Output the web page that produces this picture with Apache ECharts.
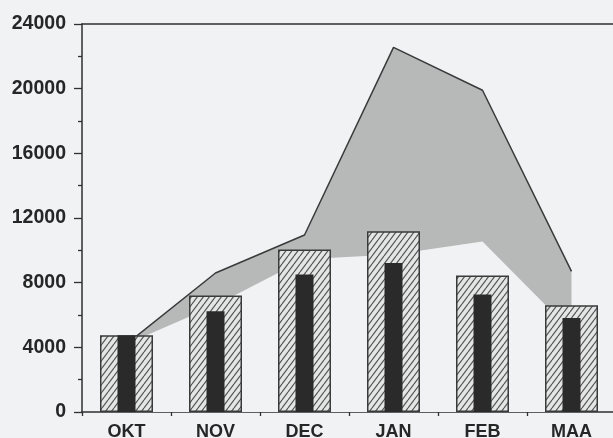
<!DOCTYPE html>
<html>
<head>
<meta charset="utf-8">
<script src="https://cdn.jsdelivr.net/npm/echarts@6/dist/echarts.min.js"></script>
<style>
  html, body { margin: 0; padding: 0; background: #f0f2f3; }
  #chart { width: 613px; height: 438px; }
</style>
</head>
<body>
<div id="chart"></div>
<script>
// Months (Dutch abbreviations)
const categories = ['OKT', 'NOV', 'DEC', 'JAN', 'FEB', 'MAA'];
// Wide hatched columns
const hatchedValues = [4750, 7200, 10050, 11180, 8440, 6600];
// Narrow dark columns
const darkValues = [4750, 6230, 8500, 9220, 7265, 5820];
// Band: upper and lower edge of the grey range
const upperValues = [4200, 8600, 10950, 22550, 19900, 8700];
const lowerValues = [4200, 6600, 9450, 9750, 10550, 5000];
// Value axis
const yTicks = [0, 4000, 8000, 12000, 16000, 20000, 24000];

const BG = '#f0f2f3';
const INK = '#2f2f2f';

// Diagonal hatch tile for the wide columns
function hatchPattern() {
  const w = 6, h = 8;
  const c = document.createElement('canvas');
  c.width = w; c.height = h;
  const g = c.getContext('2d');
  g.fillStyle = '#e4e5e5';
  g.fillRect(0, 0, w, h);
  g.strokeStyle = '#555555';
  g.lineWidth = 1.2;
  for (let k = -1; k <= 1; k++) {
    g.beginPath();
    g.moveTo(k * w, h);
    g.lineTo(k * w + w, 0);
    g.stroke();
  }
  return { image: c, repeat: 'repeat' };
}

const chart = echarts.init(document.getElementById('chart'), null, { renderer: 'canvas' });

const labelFont = { fontFamily: 'Liberation Sans, Arial, sans-serif', fontWeight: 'bold', color: '#262626' };

chart.setOption({
  backgroundColor: BG,
  animation: false,
  grid: { left: 82, top: 24, width: 534, bottom: 26, containLabel: false, outerBoundsMode: 'none' },
  xAxis: [
    {
      type: 'category',
      data: categories,
      boundaryGap: true,
      axisLine: { show: true, lineStyle: { color: INK, width: 1.5 } },
      axisTick: { show: true, length: 4, lineStyle: { color: INK, width: 1.3 } },
      axisLabel: Object.assign({ fontSize: 18, margin: 11, interval: 0 }, labelFont),
      splitLine: { show: false }
    },
    {
      type: 'category',
      data: categories,
      position: 'top',
      boundaryGap: true,
      axisLine: { show: true, lineStyle: { color: INK, width: 1.5 } },
      axisTick: { show: false },
      axisLabel: { show: false },
      splitLine: { show: false }
    }
  ],
  yAxis: {
    type: 'value',
    min: yTicks[0],
    max: yTicks[yTicks.length - 1],
    interval: 4000,
    axisLine: { show: true, lineStyle: { color: INK, width: 1.5 } },
    axisTick: { show: true, length: 8, lineStyle: { color: INK, width: 1.3 } },
    minorTick: { show: true, splitNumber: 2, length: 4, lineStyle: { color: INK, width: 1.3 } },
    axisLabel: Object.assign({ fontSize: 19.5, margin: 16, formatter: v => String(v) }, labelFont),
    splitLine: { show: false }
  },
  series: [
    {
      name: 'upper',
      type: 'line',
      data: upperValues,
      showSymbol: false,
      symbol: 'none',
      z: 1,
      lineStyle: { color: '#3a3a3a', width: 1.5 },
      areaStyle: { color: '#b7b9b9', opacity: 1 }
    },
    {
      name: 'lower',
      type: 'line',
      data: lowerValues,
      showSymbol: false,
      symbol: 'none',
      z: 2,
      lineStyle: { width: 0, color: BG },
      areaStyle: { color: BG, opacity: 1 }
    },
    {
      name: 'hatched',
      type: 'bar',
      xAxisIndex: 0,
      data: hatchedValues,
      barWidth: 53,
      z: 3,
      itemStyle: { color: hatchPattern(), borderColor: '#3a3a3a', borderWidth: 1.5 }
    },
    {
      name: 'dark',
      type: 'bar',
      xAxisIndex: 1,
      data: darkValues,
      barWidth: 18,
      z: 4,
      itemStyle: { color: '#2a2a2a' }
    }
  ]
});
</script>
</body>
</html>
